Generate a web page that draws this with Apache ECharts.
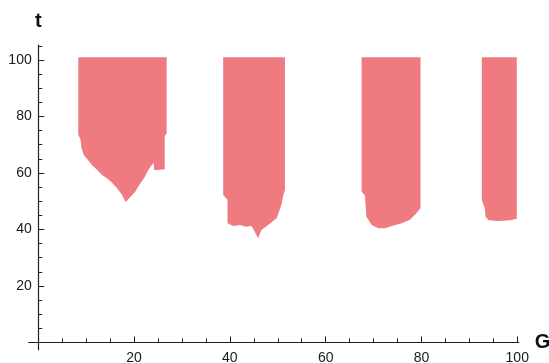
<!DOCTYPE html>
<html>
<head>
<meta charset="utf-8">
<script src="https://cdn.jsdelivr.net/npm/echarts@6/dist/echarts.min.js"></script>
<style>
  html, body { margin: 0; padding: 0; background: #ffffff; }
  #chart { width: 549px; height: 363px; }
</style>
</head>
<body>
<div id="chart"></div>
<script>
// Axis tick values
const gMajorTicks = [20, 40, 60, 80, 100];
const gMinorTicks = [5, 10, 15, 25, 30, 35, 45, 50, 55, 65, 70, 75, 85, 90, 95];
const tMajorTicks = [20, 40, 60, 80, 100];
const tMinorTicks = [5, 10, 15, 25, 30, 35, 45, 50, 55, 65, 70, 75, 85, 90, 95, 105];

// Upper limit of every region in t
const tUpper = 101;

// Lower boundary of each region, as [G, t] pairs from left to right
const region1 = [
  [8.35, 73.5], [8.8, 72.0], [9.0, 69.0], [9.5, 66.4], [10.3, 64.8], [11.2, 62.8],
  [12.2, 61.2], [13.3, 59.3], [14.4, 58.0], [15.4, 56.5], [16.5, 54.5], [17.5, 52.2],
  [18.0, 50.5], [18.3, 49.7], [19.2, 51.5], [20.2, 53.3], [21.1, 55.8], [22.1, 58.2],
  [22.8, 60.5], [23.4, 62.2], [24.1, 63.5], [24.2, 61.0], [26.4, 61.3], [26.4, 73.0],
  [26.8, 74.0]
];
const region2 = [
  [38.6, 52.2], [39.5, 50.5], [39.5, 42.2], [40.7, 41.2], [42.1, 41.6], [43.3, 41.0],
  [44.5, 41.2], [45.2, 39.2], [45.9, 36.9], [46.6, 39.8], [48.0, 41.6], [49.8, 44.1],
  [50.8, 49.0], [51.2, 52.5], [51.5, 54.0]
];
const region3 = [
  [67.5, 53.4], [68.2, 52.0], [68.5, 44.5], [69.6, 41.6], [71.0, 40.4], [72.4, 40.4],
  [73.8, 41.2], [75.9, 42.2], [77.6, 43.4], [79.0, 45.8], [79.5, 47.0], [79.8, 47.5]
];
const region4 = [
  [92.6, 50.4], [93.2, 47.5], [93.4, 44.5], [94.0, 43.3], [96.0, 43.0], [98.5, 43.3],
  [99.9, 43.8]
];
const regions = [region1, region2, region3, region4];

const fillColor = '#ef7b80';
const axisColor = '#1f1f1f';
const labelFont = { fontFamily: 'Liberation Sans, Arial, sans-serif', fontSize: 14, color: '#1a1a1a' };
const nameFont = { fontFamily: 'Liberation Sans, Arial, sans-serif', fontSize: 20, fontWeight: 'bold', color: '#111' };

const chart = echarts.init(document.getElementById('chart'), null, { renderer: 'canvas' });

// Each region is filled from its lower boundary up to tUpper
function renderRegion(params, api) {
  const boundary = regions[api.value(0)];
  const first = boundary[0];
  const last = boundary[boundary.length - 1];
  const pts = [api.coord([first[0], tUpper])];
  boundary.forEach(function (p) { pts.push(api.coord(p)); });
  pts.push(api.coord([last[0], tUpper]));
  return {
    type: 'polygon',
    shape: { points: pts },
    style: { fill: fillColor, stroke: null }
  };
}

const xRange = { min: -2, max: 100.3 };
const yRange = { min: -2.6, max: 105.3 };

chart.setOption({
  animation: false,
  backgroundColor: '#ffffff',
  grid: { left: 28.7, right: 30.3, top: 45, bottom: 13.2, containLabel: false, outerBoundsMode: 'none' },
  xAxis: [
    {
      type: 'value', min: xRange.min, max: xRange.max, position: 'bottom',
      name: 'G', nameLocation: 'end', nameGap: 14, nameTextStyle: nameFont,
      axisLine: { show: true, onZero: true, lineStyle: { color: axisColor, width: 1.2 } },
      axisTick: { show: true, inside: true, length: 6, customValues: gMajorTicks, lineStyle: { color: axisColor, width: 1 } },
      axisLabel: Object.assign({ show: true, customValues: gMajorTicks, margin: 1 }, labelFont),
      splitLine: { show: false }
    },
    {
      type: 'value', min: xRange.min, max: xRange.max, position: 'bottom',
      axisLine: { show: false, onZero: true },
      axisTick: { show: true, inside: true, length: 4, customValues: gMinorTicks, lineStyle: { color: axisColor, width: 1 } },
      axisLabel: { show: false },
      splitLine: { show: false }
    }
  ],
  yAxis: [
    {
      type: 'value', min: yRange.min, max: yRange.max, position: 'left',
      name: 't', nameLocation: 'end', nameGap: 14, nameTextStyle: nameFont,
      axisLine: { show: true, onZero: true, lineStyle: { color: axisColor, width: 1.2 } },
      axisTick: { show: true, inside: true, length: 6, customValues: tMajorTicks, lineStyle: { color: axisColor, width: 1 } },
      axisLabel: Object.assign({ show: true, customValues: tMajorTicks, margin: -3 }, labelFont),
      splitLine: { show: false }
    },
    {
      type: 'value', min: yRange.min, max: yRange.max, position: 'left',
      axisLine: { show: false, onZero: true },
      axisTick: { show: true, inside: true, length: 4, customValues: tMinorTicks, lineStyle: { color: axisColor, width: 1 } },
      axisLabel: { show: false },
      splitLine: { show: false }
    }
  ],
  series: [
    {
      type: 'custom',
      coordinateSystem: 'cartesian2d',
      xAxisIndex: 0,
      yAxisIndex: 0,
      renderItem: renderRegion,
      data: regions.map(function (r, i) { return [i]; }),
      silent: true
    }
  ]
});
</script>
</body>
</html>
